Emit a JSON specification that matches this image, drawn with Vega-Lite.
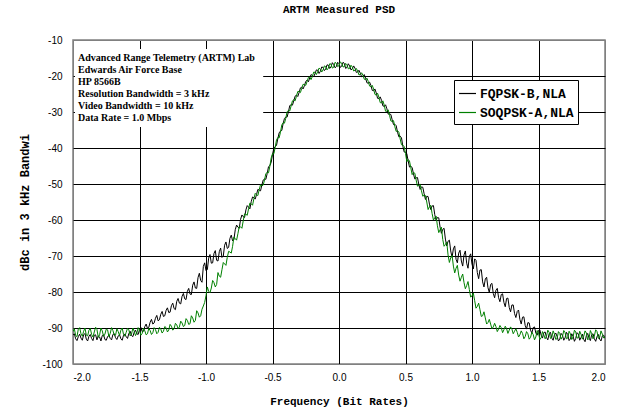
{
  "$schema": "https://vega.github.io/schema/vega-lite/v6.json",
  "width": 532,
  "height": 324,
  "autosize": {"type": "none"},
  "padding": {"left": 73, "top": 40, "right": 19, "bottom": 53},
  "background": "white",
  "title": {"text": "ARTM Measured PSD", "font": "Liberation Mono", "fontSize": 11, "fontWeight": "bold", "color": "black", "anchor": "middle", "offset": 20},
  "config": {
    "view": {"stroke": "#808080", "strokeWidth": 1.5},
    "axis": {"domain": false, "ticks": false, "grid": true, "gridWidth": 1, "labelColor": "black", "labelFont": "Liberation Sans", "labelFontSize": 10, "titleColor": "black", "titleFont": "Liberation Mono", "titleFontWeight": "bold", "titleFontSize": 11},
    "axisY": {"tickCount": 10, "tickMinStep": 10}
  },
  "datasets": {
    "psd": [
      {"f":-2.00,"FQPSK-B,NLA":-92.0,"SOQPSK-A,NLA":-91.0},
      {"f":-1.98,"FQPSK-B,NLA":-93.0,"SOQPSK-A,NLA":-92.1},
      {"f":-1.96,"FQPSK-B,NLA":-92.4,"SOQPSK-A,NLA":-90.3},
      {"f":-1.94,"FQPSK-B,NLA":-92.8,"SOQPSK-A,NLA":-91.6},
      {"f":-1.92,"FQPSK-B,NLA":-91.9,"SOQPSK-A,NLA":-90.9},
      {"f":-1.90,"FQPSK-B,NLA":-93.1,"SOQPSK-A,NLA":-92.0},
      {"f":-1.88,"FQPSK-B,NLA":-92.3,"SOQPSK-A,NLA":-90.6},
      {"f":-1.86,"FQPSK-B,NLA":-92.9,"SOQPSK-A,NLA":-91.8},
      {"f":-1.84,"FQPSK-B,NLA":-92.0,"SOQPSK-A,NLA":-91.1},
      {"f":-1.82,"FQPSK-B,NLA":-93.3,"SOQPSK-A,NLA":-90.4},
      {"f":-1.80,"FQPSK-B,NLA":-92.5,"SOQPSK-A,NLA":-91.9},
      {"f":-1.78,"FQPSK-B,NLA":-92.1,"SOQPSK-A,NLA":-90.8},
      {"f":-1.76,"FQPSK-B,NLA":-93.2,"SOQPSK-A,NLA":-91.7},
      {"f":-1.74,"FQPSK-B,NLA":-92.4,"SOQPSK-A,NLA":-90.5},
      {"f":-1.72,"FQPSK-B,NLA":-92.9,"SOQPSK-A,NLA":-91.5},
      {"f":-1.70,"FQPSK-B,NLA":-91.8,"SOQPSK-A,NLA":-90.7},
      {"f":-1.68,"FQPSK-B,NLA":-92.7,"SOQPSK-A,NLA":-92.0},
      {"f":-1.66,"FQPSK-B,NLA":-92.2,"SOQPSK-A,NLA":-91.0},
      {"f":-1.64,"FQPSK-B,NLA":-93.0,"SOQPSK-A,NLA":-90.6},
      {"f":-1.62,"FQPSK-B,NLA":-92.0,"SOQPSK-A,NLA":-91.8},
      {"f":-1.60,"FQPSK-B,NLA":-92.4,"SOQPSK-A,NLA":-91.2},
      {"f":-1.58,"FQPSK-B,NLA":-91.5,"SOQPSK-A,NLA":-90.5},
      {"f":-1.56,"FQPSK-B,NLA":-92.1,"SOQPSK-A,NLA":-91.7},
      {"f":-1.54,"FQPSK-B,NLA":-91.2,"SOQPSK-A,NLA":-90.9},
      {"f":-1.52,"FQPSK-B,NLA":-91.6,"SOQPSK-A,NLA":-91.4},
      {"f":-1.50,"FQPSK-B,NLA":-90.4,"SOQPSK-A,NLA":-90.6},
      {"f":-1.48,"FQPSK-B,NLA":-91.0,"SOQPSK-A,NLA":-91.5},
      {"f":-1.46,"FQPSK-B,NLA":-89.6,"SOQPSK-A,NLA":-90.8},
      {"f":-1.44,"FQPSK-B,NLA":-90.1,"SOQPSK-A,NLA":-91.6},
      {"f":-1.42,"FQPSK-B,NLA":-88.4,"SOQPSK-A,NLA":-90.7},
      {"f":-1.40,"FQPSK-B,NLA":-88.9,"SOQPSK-A,NLA":-91.3},
      {"f":-1.38,"FQPSK-B,NLA":-87.3,"SOQPSK-A,NLA":-90.4},
      {"f":-1.36,"FQPSK-B,NLA":-88.0,"SOQPSK-A,NLA":-91.2},
      {"f":-1.34,"FQPSK-B,NLA":-86.2,"SOQPSK-A,NLA":-90.3},
      {"f":-1.32,"FQPSK-B,NLA":-86.8,"SOQPSK-A,NLA":-90.9},
      {"f":-1.30,"FQPSK-B,NLA":-85.1,"SOQPSK-A,NLA":-89.9},
      {"f":-1.28,"FQPSK-B,NLA":-85.7,"SOQPSK-A,NLA":-90.6},
      {"f":-1.26,"FQPSK-B,NLA":-83.8,"SOQPSK-A,NLA":-89.5},
      {"f":-1.24,"FQPSK-B,NLA":-84.6,"SOQPSK-A,NLA":-90.2},
      {"f":-1.22,"FQPSK-B,NLA":-82.6,"SOQPSK-A,NLA":-89.1},
      {"f":-1.20,"FQPSK-B,NLA":-83.1,"SOQPSK-A,NLA":-89.7},
      {"f":-1.18,"FQPSK-B,NLA":-81.2,"SOQPSK-A,NLA":-88.6},
      {"f":-1.16,"FQPSK-B,NLA":-81.9,"SOQPSK-A,NLA":-89.3},
      {"f":-1.14,"FQPSK-B,NLA":-79.8,"SOQPSK-A,NLA":-87.9},
      {"f":-1.12,"FQPSK-B,NLA":-80.6,"SOQPSK-A,NLA":-88.8},
      {"f":-1.10,"FQPSK-B,NLA":-78.1,"SOQPSK-A,NLA":-87.2},
      {"f":-1.08,"FQPSK-B,NLA":-78.9,"SOQPSK-A,NLA":-87.9},
      {"f":-1.06,"FQPSK-B,NLA":-76.0,"SOQPSK-A,NLA":-85.8},
      {"f":-1.04,"FQPSK-B,NLA":-76.8,"SOQPSK-A,NLA":-86.6},
      {"f":-1.02,"FQPSK-B,NLA":-72.9,"SOQPSK-A,NLA":-83.9},
      {"f":-1.00,"FQPSK-B,NLA":-74.1,"SOQPSK-A,NLA":-81.0},
      {"f":-0.98,"FQPSK-B,NLA":-70.6,"SOQPSK-A,NLA":-79.8},
      {"f":-0.96,"FQPSK-B,NLA":-72.0,"SOQPSK-A,NLA":-78.9},
      {"f":-0.94,"FQPSK-B,NLA":-69.3,"SOQPSK-A,NLA":-77.4},
      {"f":-0.92,"FQPSK-B,NLA":-71.2,"SOQPSK-A,NLA":-77.9},
      {"f":-0.90,"FQPSK-B,NLA":-68.8,"SOQPSK-A,NLA":-75.6},
      {"f":-0.88,"FQPSK-B,NLA":-70.4,"SOQPSK-A,NLA":-73.8},
      {"f":-0.86,"FQPSK-B,NLA":-67.0,"SOQPSK-A,NLA":-72.2},
      {"f":-0.84,"FQPSK-B,NLA":-67.9,"SOQPSK-A,NLA":-70.4},
      {"f":-0.82,"FQPSK-B,NLA":-65.1,"SOQPSK-A,NLA":-68.9},
      {"f":-0.80,"FQPSK-B,NLA":-65.8,"SOQPSK-A,NLA":-67.3},
      {"f":-0.78,"FQPSK-B,NLA":-62.7,"SOQPSK-A,NLA":-65.2},
      {"f":-0.76,"FQPSK-B,NLA":-62.0,"SOQPSK-A,NLA":-63.8},
      {"f":-0.74,"FQPSK-B,NLA":-59.8,"SOQPSK-A,NLA":-61.9},
      {"f":-0.72,"FQPSK-B,NLA":-59.1,"SOQPSK-A,NLA":-60.2},
      {"f":-0.70,"FQPSK-B,NLA":-57.2,"SOQPSK-A,NLA":-58.4},
      {"f":-0.68,"FQPSK-B,NLA":-56.4,"SOQPSK-A,NLA":-56.9},
      {"f":-0.66,"FQPSK-B,NLA":-54.9,"SOQPSK-A,NLA":-55.5},
      {"f":-0.64,"FQPSK-B,NLA":-53.8,"SOQPSK-A,NLA":-54.1},
      {"f":-0.62,"FQPSK-B,NLA":-52.9,"SOQPSK-A,NLA":-53.0},
      {"f":-0.60,"FQPSK-B,NLA":-51.7,"SOQPSK-A,NLA":-51.6},
      {"f":-0.58,"FQPSK-B,NLA":-50.3,"SOQPSK-A,NLA":-50.5},
      {"f":-0.56,"FQPSK-B,NLA":-48.6,"SOQPSK-A,NLA":-48.9},
      {"f":-0.54,"FQPSK-B,NLA":-47.1,"SOQPSK-A,NLA":-46.8},
      {"f":-0.52,"FQPSK-B,NLA":-44.9,"SOQPSK-A,NLA":-45.1},
      {"f":-0.50,"FQPSK-B,NLA":-41.8,"SOQPSK-A,NLA":-41.6},
      {"f":-0.48,"FQPSK-B,NLA":-39.6,"SOQPSK-A,NLA":-39.9},
      {"f":-0.46,"FQPSK-B,NLA":-37.4,"SOQPSK-A,NLA":-37.1},
      {"f":-0.44,"FQPSK-B,NLA":-35.3,"SOQPSK-A,NLA":-35.6},
      {"f":-0.42,"FQPSK-B,NLA":-33.2,"SOQPSK-A,NLA":-33.0},
      {"f":-0.40,"FQPSK-B,NLA":-31.4,"SOQPSK-A,NLA":-31.7},
      {"f":-0.38,"FQPSK-B,NLA":-29.9,"SOQPSK-A,NLA":-29.6},
      {"f":-0.36,"FQPSK-B,NLA":-28.0,"SOQPSK-A,NLA":-28.3},
      {"f":-0.34,"FQPSK-B,NLA":-26.9,"SOQPSK-A,NLA":-26.6},
      {"f":-0.32,"FQPSK-B,NLA":-25.3,"SOQPSK-A,NLA":-25.6},
      {"f":-0.30,"FQPSK-B,NLA":-24.6,"SOQPSK-A,NLA":-24.3},
      {"f":-0.28,"FQPSK-B,NLA":-23.1,"SOQPSK-A,NLA":-23.4},
      {"f":-0.26,"FQPSK-B,NLA":-22.7,"SOQPSK-A,NLA":-22.4},
      {"f":-0.24,"FQPSK-B,NLA":-21.2,"SOQPSK-A,NLA":-21.5},
      {"f":-0.22,"FQPSK-B,NLA":-20.5,"SOQPSK-A,NLA":-20.3},
      {"f":-0.20,"FQPSK-B,NLA":-19.9,"SOQPSK-A,NLA":-20.1},
      {"f":-0.18,"FQPSK-B,NLA":-19.3,"SOQPSK-A,NLA":-19.0},
      {"f":-0.16,"FQPSK-B,NLA":-18.4,"SOQPSK-A,NLA":-18.8},
      {"f":-0.14,"FQPSK-B,NLA":-18.7,"SOQPSK-A,NLA":-18.1},
      {"f":-0.12,"FQPSK-B,NLA":-17.6,"SOQPSK-A,NLA":-18.3},
      {"f":-0.10,"FQPSK-B,NLA":-18.1,"SOQPSK-A,NLA":-17.4},
      {"f":-0.08,"FQPSK-B,NLA":-17.0,"SOQPSK-A,NLA":-17.8},
      {"f":-0.06,"FQPSK-B,NLA":-17.5,"SOQPSK-A,NLA":-16.7},
      {"f":-0.04,"FQPSK-B,NLA":-16.8,"SOQPSK-A,NLA":-17.6},
      {"f":-0.02,"FQPSK-B,NLA":-17.4,"SOQPSK-A,NLA":-16.5},
      {"f":0.00,"FQPSK-B,NLA":-16.6,"SOQPSK-A,NLA":-17.1},
      {"f":0.02,"FQPSK-B,NLA":-17.3,"SOQPSK-A,NLA":-16.4},
      {"f":0.04,"FQPSK-B,NLA":-16.5,"SOQPSK-A,NLA":-17.4},
      {"f":0.06,"FQPSK-B,NLA":-17.6,"SOQPSK-A,NLA":-16.9},
      {"f":0.08,"FQPSK-B,NLA":-17.2,"SOQPSK-A,NLA":-17.9},
      {"f":0.10,"FQPSK-B,NLA":-18.0,"SOQPSK-A,NLA":-17.5},
      {"f":0.12,"FQPSK-B,NLA":-17.8,"SOQPSK-A,NLA":-18.4},
      {"f":0.14,"FQPSK-B,NLA":-18.9,"SOQPSK-A,NLA":-18.6},
      {"f":0.16,"FQPSK-B,NLA":-19.2,"SOQPSK-A,NLA":-19.6},
      {"f":0.18,"FQPSK-B,NLA":-20.1,"SOQPSK-A,NLA":-19.8},
      {"f":0.20,"FQPSK-B,NLA":-20.6,"SOQPSK-A,NLA":-21.0},
      {"f":0.22,"FQPSK-B,NLA":-22.0,"SOQPSK-A,NLA":-21.5},
      {"f":0.24,"FQPSK-B,NLA":-22.6,"SOQPSK-A,NLA":-23.0},
      {"f":0.26,"FQPSK-B,NLA":-24.1,"SOQPSK-A,NLA":-23.6},
      {"f":0.28,"FQPSK-B,NLA":-24.7,"SOQPSK-A,NLA":-25.3},
      {"f":0.30,"FQPSK-B,NLA":-26.3,"SOQPSK-A,NLA":-25.9},
      {"f":0.32,"FQPSK-B,NLA":-26.8,"SOQPSK-A,NLA":-27.5},
      {"f":0.34,"FQPSK-B,NLA":-28.4,"SOQPSK-A,NLA":-28.1},
      {"f":0.36,"FQPSK-B,NLA":-29.1,"SOQPSK-A,NLA":-29.8},
      {"f":0.38,"FQPSK-B,NLA":-30.5,"SOQPSK-A,NLA":-30.9},
      {"f":0.40,"FQPSK-B,NLA":-32.2,"SOQPSK-A,NLA":-32.6},
      {"f":0.42,"FQPSK-B,NLA":-33.4,"SOQPSK-A,NLA":-34.1},
      {"f":0.44,"FQPSK-B,NLA":-35.6,"SOQPSK-A,NLA":-35.2},
      {"f":0.46,"FQPSK-B,NLA":-36.7,"SOQPSK-A,NLA":-37.5},
      {"f":0.48,"FQPSK-B,NLA":-39.5,"SOQPSK-A,NLA":-39.2},
      {"f":0.50,"FQPSK-B,NLA":-41.2,"SOQPSK-A,NLA":-41.5},
      {"f":0.52,"FQPSK-B,NLA":-43.6,"SOQPSK-A,NLA":-43.2},
      {"f":0.54,"FQPSK-B,NLA":-45.1,"SOQPSK-A,NLA":-45.5},
      {"f":0.56,"FQPSK-B,NLA":-47.2,"SOQPSK-A,NLA":-46.8},
      {"f":0.58,"FQPSK-B,NLA":-48.3,"SOQPSK-A,NLA":-48.9},
      {"f":0.60,"FQPSK-B,NLA":-50.1,"SOQPSK-A,NLA":-50.4},
      {"f":0.62,"FQPSK-B,NLA":-50.8,"SOQPSK-A,NLA":-51.9},
      {"f":0.64,"FQPSK-B,NLA":-52.7,"SOQPSK-A,NLA":-53.1},
      {"f":0.66,"FQPSK-B,NLA":-53.4,"SOQPSK-A,NLA":-55.0},
      {"f":0.68,"FQPSK-B,NLA":-55.6,"SOQPSK-A,NLA":-56.3},
      {"f":0.70,"FQPSK-B,NLA":-56.1,"SOQPSK-A,NLA":-58.2},
      {"f":0.72,"FQPSK-B,NLA":-58.5,"SOQPSK-A,NLA":-59.4},
      {"f":0.74,"FQPSK-B,NLA":-59.3,"SOQPSK-A,NLA":-61.6},
      {"f":0.76,"FQPSK-B,NLA":-62.0,"SOQPSK-A,NLA":-62.7},
      {"f":0.78,"FQPSK-B,NLA":-62.6,"SOQPSK-A,NLA":-65.4},
      {"f":0.80,"FQPSK-B,NLA":-65.3,"SOQPSK-A,NLA":-66.8},
      {"f":0.82,"FQPSK-B,NLA":-65.9,"SOQPSK-A,NLA":-69.7},
      {"f":0.84,"FQPSK-B,NLA":-68.6,"SOQPSK-A,NLA":-70.5},
      {"f":0.86,"FQPSK-B,NLA":-68.0,"SOQPSK-A,NLA":-72.8},
      {"f":0.88,"FQPSK-B,NLA":-70.9,"SOQPSK-A,NLA":-73.4},
      {"f":0.90,"FQPSK-B,NLA":-69.2,"SOQPSK-A,NLA":-75.3},
      {"f":0.92,"FQPSK-B,NLA":-71.4,"SOQPSK-A,NLA":-75.9},
      {"f":0.94,"FQPSK-B,NLA":-69.7,"SOQPSK-A,NLA":-77.4},
      {"f":0.96,"FQPSK-B,NLA":-72.0,"SOQPSK-A,NLA":-78.2},
      {"f":0.98,"FQPSK-B,NLA":-70.1,"SOQPSK-A,NLA":-79.3},
      {"f":1.00,"FQPSK-B,NLA":-72.3,"SOQPSK-A,NLA":-81.1},
      {"f":1.02,"FQPSK-B,NLA":-70.8,"SOQPSK-A,NLA":-82.4},
      {"f":1.04,"FQPSK-B,NLA":-74.6,"SOQPSK-A,NLA":-84.0},
      {"f":1.06,"FQPSK-B,NLA":-73.9,"SOQPSK-A,NLA":-84.9},
      {"f":1.08,"FQPSK-B,NLA":-77.2,"SOQPSK-A,NLA":-86.6},
      {"f":1.10,"FQPSK-B,NLA":-76.4,"SOQPSK-A,NLA":-87.2},
      {"f":1.12,"FQPSK-B,NLA":-78.8,"SOQPSK-A,NLA":-88.5},
      {"f":1.14,"FQPSK-B,NLA":-77.9,"SOQPSK-A,NLA":-88.9},
      {"f":1.16,"FQPSK-B,NLA":-80.4,"SOQPSK-A,NLA":-89.7},
      {"f":1.18,"FQPSK-B,NLA":-79.5,"SOQPSK-A,NLA":-89.6},
      {"f":1.20,"FQPSK-B,NLA":-81.6,"SOQPSK-A,NLA":-90.3},
      {"f":1.22,"FQPSK-B,NLA":-80.7,"SOQPSK-A,NLA":-89.9},
      {"f":1.24,"FQPSK-B,NLA":-82.9,"SOQPSK-A,NLA":-90.5},
      {"f":1.26,"FQPSK-B,NLA":-81.8,"SOQPSK-A,NLA":-90.2},
      {"f":1.28,"FQPSK-B,NLA":-84.3,"SOQPSK-A,NLA":-90.6},
      {"f":1.30,"FQPSK-B,NLA":-83.6,"SOQPSK-A,NLA":-90.3},
      {"f":1.32,"FQPSK-B,NLA":-86.0,"SOQPSK-A,NLA":-90.9},
      {"f":1.34,"FQPSK-B,NLA":-85.4,"SOQPSK-A,NLA":-91.2},
      {"f":1.36,"FQPSK-B,NLA":-87.6,"SOQPSK-A,NLA":-91.9},
      {"f":1.38,"FQPSK-B,NLA":-87.0,"SOQPSK-A,NLA":-91.5},
      {"f":1.40,"FQPSK-B,NLA":-89.3,"SOQPSK-A,NLA":-92.4},
      {"f":1.42,"FQPSK-B,NLA":-88.5,"SOQPSK-A,NLA":-91.6},
      {"f":1.44,"FQPSK-B,NLA":-90.6,"SOQPSK-A,NLA":-92.6},
      {"f":1.46,"FQPSK-B,NLA":-89.9,"SOQPSK-A,NLA":-91.8},
      {"f":1.48,"FQPSK-B,NLA":-91.4,"SOQPSK-A,NLA":-92.5},
      {"f":1.50,"FQPSK-B,NLA":-90.7,"SOQPSK-A,NLA":-91.4},
      {"f":1.52,"FQPSK-B,NLA":-92.0,"SOQPSK-A,NLA":-92.7},
      {"f":1.54,"FQPSK-B,NLA":-91.3,"SOQPSK-A,NLA":-91.9},
      {"f":1.56,"FQPSK-B,NLA":-92.6,"SOQPSK-A,NLA":-92.3},
      {"f":1.58,"FQPSK-B,NLA":-91.6,"SOQPSK-A,NLA":-91.2},
      {"f":1.60,"FQPSK-B,NLA":-92.8,"SOQPSK-A,NLA":-92.6},
      {"f":1.62,"FQPSK-B,NLA":-91.9,"SOQPSK-A,NLA":-91.7},
      {"f":1.64,"FQPSK-B,NLA":-92.4,"SOQPSK-A,NLA":-92.9},
      {"f":1.66,"FQPSK-B,NLA":-93.1,"SOQPSK-A,NLA":-91.5},
      {"f":1.68,"FQPSK-B,NLA":-92.0,"SOQPSK-A,NLA":-92.4},
      {"f":1.70,"FQPSK-B,NLA":-92.7,"SOQPSK-A,NLA":-91.3},
      {"f":1.72,"FQPSK-B,NLA":-91.8,"SOQPSK-A,NLA":-92.8},
      {"f":1.74,"FQPSK-B,NLA":-93.0,"SOQPSK-A,NLA":-91.6},
      {"f":1.76,"FQPSK-B,NLA":-92.3,"SOQPSK-A,NLA":-92.5},
      {"f":1.78,"FQPSK-B,NLA":-92.9,"SOQPSK-A,NLA":-91.1},
      {"f":1.80,"FQPSK-B,NLA":-91.7,"SOQPSK-A,NLA":-92.7},
      {"f":1.82,"FQPSK-B,NLA":-92.6,"SOQPSK-A,NLA":-91.8},
      {"f":1.84,"FQPSK-B,NLA":-93.2,"SOQPSK-A,NLA":-92.3},
      {"f":1.86,"FQPSK-B,NLA":-92.1,"SOQPSK-A,NLA":-91.4},
      {"f":1.88,"FQPSK-B,NLA":-92.8,"SOQPSK-A,NLA":-92.9},
      {"f":1.90,"FQPSK-B,NLA":-91.9,"SOQPSK-A,NLA":-91.6},
      {"f":1.92,"FQPSK-B,NLA":-93.0,"SOQPSK-A,NLA":-92.2},
      {"f":1.94,"FQPSK-B,NLA":-92.4,"SOQPSK-A,NLA":-91.0},
      {"f":1.96,"FQPSK-B,NLA":-93.1,"SOQPSK-A,NLA":-92.6},
      {"f":1.98,"FQPSK-B,NLA":-92.2,"SOQPSK-A,NLA":-91.7},
      {"f":2.00,"FQPSK-B,NLA":-92.9,"SOQPSK-A,NLA":-92.4},
      {"f":-1.99,"FQPSK-B,NLA":-91.6,"SOQPSK-A,NLA":-90.2},
      {"f":-1.97,"FQPSK-B,NLA":-93.5,"SOQPSK-A,NLA":-92.4},
      {"f":-1.95,"FQPSK-B,NLA":-91.7,"SOQPSK-A,NLA":-89.9},
      {"f":-1.93,"FQPSK-B,NLA":-93.4,"SOQPSK-A,NLA":-92.3},
      {"f":-1.91,"FQPSK-B,NLA":-91.5,"SOQPSK-A,NLA":-90.0},
      {"f":-1.89,"FQPSK-B,NLA":-93.6,"SOQPSK-A,NLA":-92.2},
      {"f":-1.87,"FQPSK-B,NLA":-91.8,"SOQPSK-A,NLA":-90.1},
      {"f":-1.85,"FQPSK-B,NLA":-93.5,"SOQPSK-A,NLA":-92.5},
      {"f":-1.83,"FQPSK-B,NLA":-91.9,"SOQPSK-A,NLA":-89.8},
      {"f":-1.81,"FQPSK-B,NLA":-92.2,"SOQPSK-A,NLA":-92.6},
      {"f":-1.79,"FQPSK-B,NLA":-93.6,"SOQPSK-A,NLA":-90.0},
      {"f":-1.77,"FQPSK-B,NLA":-91.9,"SOQPSK-A,NLA":-92.3},
      {"f":-1.75,"FQPSK-B,NLA":-93.4,"SOQPSK-A,NLA":-90.3},
      {"f":-1.73,"FQPSK-B,NLA":-92.0,"SOQPSK-A,NLA":-92.4},
      {"f":-1.71,"FQPSK-B,NLA":-93.3,"SOQPSK-A,NLA":-89.9},
      {"f":-1.69,"FQPSK-B,NLA":-91.6,"SOQPSK-A,NLA":-91.9},
      {"f":-1.67,"FQPSK-B,NLA":-93.2,"SOQPSK-A,NLA":-90.2},
      {"f":-1.65,"FQPSK-B,NLA":-91.9,"SOQPSK-A,NLA":-92.1},
      {"f":-1.63,"FQPSK-B,NLA":-93.4,"SOQPSK-A,NLA":-90.0},
      {"f":-1.61,"FQPSK-B,NLA":-91.7,"SOQPSK-A,NLA":-92.3},
      {"f":-1.59,"FQPSK-B,NLA":-92.9,"SOQPSK-A,NLA":-90.1},
      {"f":-1.57,"FQPSK-B,NLA":-90.9,"SOQPSK-A,NLA":-92.2},
      {"f":-1.55,"FQPSK-B,NLA":-92.4,"SOQPSK-A,NLA":-90.0},
      {"f":-1.53,"FQPSK-B,NLA":-90.6,"SOQPSK-A,NLA":-92.1},
      {"f":-1.51,"FQPSK-B,NLA":-91.8,"SOQPSK-A,NLA":-89.9},
      {"f":-1.49,"FQPSK-B,NLA":-89.8,"SOQPSK-A,NLA":-92.0},
      {"f":-1.47,"FQPSK-B,NLA":-90.9,"SOQPSK-A,NLA":-90.0},
      {"f":-1.45,"FQPSK-B,NLA":-88.9,"SOQPSK-A,NLA":-91.9},
      {"f":-1.43,"FQPSK-B,NLA":-89.8,"SOQPSK-A,NLA":-90.1},
      {"f":-1.41,"FQPSK-B,NLA":-87.6,"SOQPSK-A,NLA":-91.8},
      {"f":-1.39,"FQPSK-B,NLA":-88.6,"SOQPSK-A,NLA":-89.9},
      {"f":-1.37,"FQPSK-B,NLA":-86.5,"SOQPSK-A,NLA":-91.6},
      {"f":-1.35,"FQPSK-B,NLA":-87.7,"SOQPSK-A,NLA":-89.8},
      {"f":-1.33,"FQPSK-B,NLA":-85.4,"SOQPSK-A,NLA":-91.4},
      {"f":-1.31,"FQPSK-B,NLA":-86.6,"SOQPSK-A,NLA":-89.6},
      {"f":-1.29,"FQPSK-B,NLA":-84.4,"SOQPSK-A,NLA":-91.1},
      {"f":-1.27,"FQPSK-B,NLA":-85.6,"SOQPSK-A,NLA":-89.0},
      {"f":-1.25,"FQPSK-B,NLA":-83.1,"SOQPSK-A,NLA":-90.6},
      {"f":-1.23,"FQPSK-B,NLA":-84.9,"SOQPSK-A,NLA":-88.7},
      {"f":-1.21,"FQPSK-B,NLA":-81.8,"SOQPSK-A,NLA":-90.2},
      {"f":-1.19,"FQPSK-B,NLA":-83.3,"SOQPSK-A,NLA":-88.1},
      {"f":-1.17,"FQPSK-B,NLA":-80.4,"SOQPSK-A,NLA":-89.6},
      {"f":-1.15,"FQPSK-B,NLA":-82.1,"SOQPSK-A,NLA":-87.4},
      {"f":-1.13,"FQPSK-B,NLA":-79.0,"SOQPSK-A,NLA":-89.0},
      {"f":-1.11,"FQPSK-B,NLA":-80.7,"SOQPSK-A,NLA":-86.6},
      {"f":-1.09,"FQPSK-B,NLA":-77.2,"SOQPSK-A,NLA":-88.4},
      {"f":-1.07,"FQPSK-B,NLA":-79.0,"SOQPSK-A,NLA":-85.2},
      {"f":-1.05,"FQPSK-B,NLA":-74.8,"SOQPSK-A,NLA":-87.0},
      {"f":-1.03,"FQPSK-B,NLA":-77.3,"SOQPSK-A,NLA":-84.8},
      {"f":-1.01,"FQPSK-B,NLA":-71.9,"SOQPSK-A,NLA":-82.9},
      {"f":-0.99,"FQPSK-B,NLA":-73.8,"SOQPSK-A,NLA":-78.6},
      {"f":-0.97,"FQPSK-B,NLA":-69.6,"SOQPSK-A,NLA":-80.2},
      {"f":-0.95,"FQPSK-B,NLA":-71.9,"SOQPSK-A,NLA":-76.8},
      {"f":-0.93,"FQPSK-B,NLA":-68.5,"SOQPSK-A,NLA":-78.6},
      {"f":-0.91,"FQPSK-B,NLA":-71.4,"SOQPSK-A,NLA":-74.6},
      {"f":-0.89,"FQPSK-B,NLA":-67.8,"SOQPSK-A,NLA":-75.9},
      {"f":-0.87,"FQPSK-B,NLA":-70.0,"SOQPSK-A,NLA":-71.8},
      {"f":-0.85,"FQPSK-B,NLA":-66.1,"SOQPSK-A,NLA":-72.6},
      {"f":-0.83,"FQPSK-B,NLA":-67.6,"SOQPSK-A,NLA":-68.7},
      {"f":-0.81,"FQPSK-B,NLA":-64.2,"SOQPSK-A,NLA":-69.2},
      {"f":-0.79,"FQPSK-B,NLA":-65.4,"SOQPSK-A,NLA":-64.7},
      {"f":-0.77,"FQPSK-B,NLA":-61.4,"SOQPSK-A,NLA":-65.6},
      {"f":-0.75,"FQPSK-B,NLA":-62.3,"SOQPSK-A,NLA":-61.8},
      {"f":-0.73,"FQPSK-B,NLA":-58.6,"SOQPSK-A,NLA":-62.3},
      {"f":-0.71,"FQPSK-B,NLA":-59.3,"SOQPSK-A,NLA":-58.3},
      {"f":-0.69,"FQPSK-B,NLA":-56.0,"SOQPSK-A,NLA":-58.7},
      {"f":-0.67,"FQPSK-B,NLA":-56.9,"SOQPSK-A,NLA":-55.3},
      {"f":-0.65,"FQPSK-B,NLA":-53.6,"SOQPSK-A,NLA":-55.9},
      {"f":-0.63,"FQPSK-B,NLA":-54.2,"SOQPSK-A,NLA":-52.6},
      {"f":-0.61,"FQPSK-B,NLA":-51.5,"SOQPSK-A,NLA":-53.2},
      {"f":-0.59,"FQPSK-B,NLA":-51.9,"SOQPSK-A,NLA":-50.2},
      {"f":-0.57,"FQPSK-B,NLA":-48.9,"SOQPSK-A,NLA":-50.3},
      {"f":-0.55,"FQPSK-B,NLA":-48.7,"SOQPSK-A,NLA":-47.1},
      {"f":-0.53,"FQPSK-B,NLA":-45.2,"SOQPSK-A,NLA":-46.9},
      {"f":-0.51,"FQPSK-B,NLA":-44.0,"SOQPSK-A,NLA":-42.8},
      {"f":-0.49,"FQPSK-B,NLA":-40.1,"SOQPSK-A,NLA":-41.6},
      {"f":-0.47,"FQPSK-B,NLA":-39.3,"SOQPSK-A,NLA":-37.8},
      {"f":-0.45,"FQPSK-B,NLA":-35.8,"SOQPSK-A,NLA":-37.2},
      {"f":-0.43,"FQPSK-B,NLA":-35.1,"SOQPSK-A,NLA":-33.6},
      {"f":-0.41,"FQPSK-B,NLA":-31.8,"SOQPSK-A,NLA":-33.1},
      {"f":-0.39,"FQPSK-B,NLA":-31.4,"SOQPSK-A,NLA":-29.9},
      {"f":-0.37,"FQPSK-B,NLA":-28.2,"SOQPSK-A,NLA":-29.7},
      {"f":-0.35,"FQPSK-B,NLA":-28.1,"SOQPSK-A,NLA":-26.9},
      {"f":-0.33,"FQPSK-B,NLA":-25.6,"SOQPSK-A,NLA":-26.9},
      {"f":-0.31,"FQPSK-B,NLA":-25.7,"SOQPSK-A,NLA":-24.3},
      {"f":-0.29,"FQPSK-B,NLA":-23.3,"SOQPSK-A,NLA":-24.6},
      {"f":-0.27,"FQPSK-B,NLA":-23.6,"SOQPSK-A,NLA":-22.3},
      {"f":-0.25,"FQPSK-B,NLA":-21.5,"SOQPSK-A,NLA":-22.6},
      {"f":-0.23,"FQPSK-B,NLA":-21.6,"SOQPSK-A,NLA":-20.4},
      {"f":-0.21,"FQPSK-B,NLA":-19.6,"SOQPSK-A,NLA":-21.0},
      {"f":-0.19,"FQPSK-B,NLA":-20.2,"SOQPSK-A,NLA":-18.9},
      {"f":-0.17,"FQPSK-B,NLA":-18.3,"SOQPSK-A,NLA":-19.6},
      {"f":-0.15,"FQPSK-B,NLA":-19.3,"SOQPSK-A,NLA":-17.8},
      {"f":-0.13,"FQPSK-B,NLA":-17.5,"SOQPSK-A,NLA":-18.9},
      {"f":-0.11,"FQPSK-B,NLA":-18.5,"SOQPSK-A,NLA":-17.2},
      {"f":-0.09,"FQPSK-B,NLA":-16.9,"SOQPSK-A,NLA":-18.3},
      {"f":-0.07,"FQPSK-B,NLA":-17.9,"SOQPSK-A,NLA":-16.6},
      {"f":-0.05,"FQPSK-B,NLA":-16.3,"SOQPSK-A,NLA":-17.8},
      {"f":-0.03,"FQPSK-B,NLA":-17.7,"SOQPSK-A,NLA":-16.2},
      {"f":-0.01,"FQPSK-B,NLA":-16.2,"SOQPSK-A,NLA":-17.4},
      {"f":0.01,"FQPSK-B,NLA":-17.6,"SOQPSK-A,NLA":-16.1},
      {"f":0.03,"FQPSK-B,NLA":-16.2,"SOQPSK-A,NLA":-17.5},
      {"f":0.05,"FQPSK-B,NLA":-17.9,"SOQPSK-A,NLA":-16.5},
      {"f":0.07,"FQPSK-B,NLA":-16.6,"SOQPSK-A,NLA":-18.0},
      {"f":0.09,"FQPSK-B,NLA":-18.3,"SOQPSK-A,NLA":-17.0},
      {"f":0.11,"FQPSK-B,NLA":-17.2,"SOQPSK-A,NLA":-18.6},
      {"f":0.13,"FQPSK-B,NLA":-19.0,"SOQPSK-A,NLA":-17.9},
      {"f":0.15,"FQPSK-B,NLA":-18.4,"SOQPSK-A,NLA":-19.7},
      {"f":0.17,"FQPSK-B,NLA":-20.2,"SOQPSK-A,NLA":-19.1},
      {"f":0.19,"FQPSK-B,NLA":-19.6,"SOQPSK-A,NLA":-20.9},
      {"f":0.21,"FQPSK-B,NLA":-21.9,"SOQPSK-A,NLA":-20.6},
      {"f":0.23,"FQPSK-B,NLA":-21.7,"SOQPSK-A,NLA":-22.8},
      {"f":0.25,"FQPSK-B,NLA":-24.0,"SOQPSK-A,NLA":-22.6},
      {"f":0.27,"FQPSK-B,NLA":-23.6,"SOQPSK-A,NLA":-25.1},
      {"f":0.29,"FQPSK-B,NLA":-26.2,"SOQPSK-A,NLA":-24.8},
      {"f":0.31,"FQPSK-B,NLA":-25.8,"SOQPSK-A,NLA":-27.4},
      {"f":0.33,"FQPSK-B,NLA":-28.3,"SOQPSK-A,NLA":-26.9},
      {"f":0.35,"FQPSK-B,NLA":-28.0,"SOQPSK-A,NLA":-29.8},
      {"f":0.37,"FQPSK-B,NLA":-30.6,"SOQPSK-A,NLA":-29.4},
      {"f":0.39,"FQPSK-B,NLA":-30.7,"SOQPSK-A,NLA":-32.5},
      {"f":0.41,"FQPSK-B,NLA":-33.5,"SOQPSK-A,NLA":-32.4},
      {"f":0.43,"FQPSK-B,NLA":-33.8,"SOQPSK-A,NLA":-35.4},
      {"f":0.45,"FQPSK-B,NLA":-36.9,"SOQPSK-A,NLA":-35.6},
      {"f":0.47,"FQPSK-B,NLA":-37.2,"SOQPSK-A,NLA":-39.1},
      {"f":0.49,"FQPSK-B,NLA":-41.1,"SOQPSK-A,NLA":-39.6},
      {"f":0.51,"FQPSK-B,NLA":-41.6,"SOQPSK-A,NLA":-43.8},
      {"f":0.53,"FQPSK-B,NLA":-45.3,"SOQPSK-A,NLA":-43.6},
      {"f":0.55,"FQPSK-B,NLA":-45.4,"SOQPSK-A,NLA":-47.4},
      {"f":0.57,"FQPSK-B,NLA":-48.6,"SOQPSK-A,NLA":-47.0},
      {"f":0.59,"FQPSK-B,NLA":-48.2,"SOQPSK-A,NLA":-50.6},
      {"f":0.61,"FQPSK-B,NLA":-51.5,"SOQPSK-A,NLA":-50.1},
      {"f":0.63,"FQPSK-B,NLA":-50.9,"SOQPSK-A,NLA":-53.4},
      {"f":0.65,"FQPSK-B,NLA":-54.3,"SOQPSK-A,NLA":-53.2},
      {"f":0.67,"FQPSK-B,NLA":-53.5,"SOQPSK-A,NLA":-57.1},
      {"f":0.69,"FQPSK-B,NLA":-57.1,"SOQPSK-A,NLA":-55.9},
      {"f":0.71,"FQPSK-B,NLA":-56.0,"SOQPSK-A,NLA":-60.0},
      {"f":0.73,"FQPSK-B,NLA":-60.1,"SOQPSK-A,NLA":-58.9},
      {"f":0.75,"FQPSK-B,NLA":-59.4,"SOQPSK-A,NLA":-63.5},
      {"f":0.77,"FQPSK-B,NLA":-63.7,"SOQPSK-A,NLA":-62.0},
      {"f":0.79,"FQPSK-B,NLA":-62.3,"SOQPSK-A,NLA":-67.3},
      {"f":0.81,"FQPSK-B,NLA":-67.2,"SOQPSK-A,NLA":-66.1},
      {"f":0.83,"FQPSK-B,NLA":-65.6,"SOQPSK-A,NLA":-71.8},
      {"f":0.85,"FQPSK-B,NLA":-70.4,"SOQPSK-A,NLA":-69.8},
      {"f":0.87,"FQPSK-B,NLA":-67.2,"SOQPSK-A,NLA":-74.7},
      {"f":0.89,"FQPSK-B,NLA":-71.9,"SOQPSK-A,NLA":-72.6},
      {"f":0.91,"FQPSK-B,NLA":-68.4,"SOQPSK-A,NLA":-77.0},
      {"f":0.93,"FQPSK-B,NLA":-72.8,"SOQPSK-A,NLA":-75.0},
      {"f":0.95,"FQPSK-B,NLA":-68.6,"SOQPSK-A,NLA":-79.1},
      {"f":0.97,"FQPSK-B,NLA":-73.4,"SOQPSK-A,NLA":-77.1},
      {"f":0.99,"FQPSK-B,NLA":-69.4,"SOQPSK-A,NLA":-81.4},
      {"f":1.01,"FQPSK-B,NLA":-73.6,"SOQPSK-A,NLA":-80.3},
      {"f":1.03,"FQPSK-B,NLA":-71.2,"SOQPSK-A,NLA":-84.5},
      {"f":1.05,"FQPSK-B,NLA":-76.3,"SOQPSK-A,NLA":-83.1},
      {"f":1.07,"FQPSK-B,NLA":-73.8,"SOQPSK-A,NLA":-86.8},
      {"f":1.09,"FQPSK-B,NLA":-78.6,"SOQPSK-A,NLA":-85.5},
      {"f":1.11,"FQPSK-B,NLA":-75.9,"SOQPSK-A,NLA":-88.9},
      {"f":1.13,"FQPSK-B,NLA":-80.1,"SOQPSK-A,NLA":-87.6},
      {"f":1.15,"FQPSK-B,NLA":-77.6,"SOQPSK-A,NLA":-90.2},
      {"f":1.17,"FQPSK-B,NLA":-81.6,"SOQPSK-A,NLA":-88.7},
      {"f":1.19,"FQPSK-B,NLA":-79.0,"SOQPSK-A,NLA":-91.0},
      {"f":1.21,"FQPSK-B,NLA":-82.7,"SOQPSK-A,NLA":-89.3},
      {"f":1.23,"FQPSK-B,NLA":-80.5,"SOQPSK-A,NLA":-91.3},
      {"f":1.25,"FQPSK-B,NLA":-84.1,"SOQPSK-A,NLA":-89.5},
      {"f":1.27,"FQPSK-B,NLA":-81.7,"SOQPSK-A,NLA":-91.5},
      {"f":1.29,"FQPSK-B,NLA":-85.5,"SOQPSK-A,NLA":-89.7},
      {"f":1.31,"FQPSK-B,NLA":-83.6,"SOQPSK-A,NLA":-91.6},
      {"f":1.33,"FQPSK-B,NLA":-87.1,"SOQPSK-A,NLA":-90.2},
      {"f":1.35,"FQPSK-B,NLA":-85.0,"SOQPSK-A,NLA":-92.5},
      {"f":1.37,"FQPSK-B,NLA":-88.9,"SOQPSK-A,NLA":-90.8},
      {"f":1.39,"FQPSK-B,NLA":-86.9,"SOQPSK-A,NLA":-93.0},
      {"f":1.41,"FQPSK-B,NLA":-90.3,"SOQPSK-A,NLA":-91.0},
      {"f":1.43,"FQPSK-B,NLA":-88.6,"SOQPSK-A,NLA":-93.1},
      {"f":1.45,"FQPSK-B,NLA":-91.4,"SOQPSK-A,NLA":-91.2},
      {"f":1.47,"FQPSK-B,NLA":-89.7,"SOQPSK-A,NLA":-93.3},
      {"f":1.49,"FQPSK-B,NLA":-92.0,"SOQPSK-A,NLA":-90.7},
      {"f":1.51,"FQPSK-B,NLA":-90.5,"SOQPSK-A,NLA":-93.2},
      {"f":1.53,"FQPSK-B,NLA":-92.8,"SOQPSK-A,NLA":-91.0},
      {"f":1.55,"FQPSK-B,NLA":-91.1,"SOQPSK-A,NLA":-93.0},
      {"f":1.57,"FQPSK-B,NLA":-93.3,"SOQPSK-A,NLA":-90.6},
      {"f":1.59,"FQPSK-B,NLA":-91.2,"SOQPSK-A,NLA":-92.9},
      {"f":1.61,"FQPSK-B,NLA":-93.4,"SOQPSK-A,NLA":-90.8},
      {"f":1.63,"FQPSK-B,NLA":-91.4,"SOQPSK-A,NLA":-93.2},
      {"f":1.65,"FQPSK-B,NLA":-93.6,"SOQPSK-A,NLA":-91.0},
      {"f":1.67,"FQPSK-B,NLA":-91.5,"SOQPSK-A,NLA":-93.1},
      {"f":1.69,"FQPSK-B,NLA":-93.4,"SOQPSK-A,NLA":-90.7},
      {"f":1.71,"FQPSK-B,NLA":-91.2,"SOQPSK-A,NLA":-93.0},
      {"f":1.73,"FQPSK-B,NLA":-93.5,"SOQPSK-A,NLA":-90.9},
      {"f":1.75,"FQPSK-B,NLA":-91.6,"SOQPSK-A,NLA":-93.2},
      {"f":1.77,"FQPSK-B,NLA":-93.7,"SOQPSK-A,NLA":-90.6},
      {"f":1.79,"FQPSK-B,NLA":-91.3,"SOQPSK-A,NLA":-92.8},
      {"f":1.81,"FQPSK-B,NLA":-93.4,"SOQPSK-A,NLA":-90.9},
      {"f":1.83,"FQPSK-B,NLA":-91.7,"SOQPSK-A,NLA":-93.1},
      {"f":1.85,"FQPSK-B,NLA":-93.8,"SOQPSK-A,NLA":-90.8},
      {"f":1.87,"FQPSK-B,NLA":-91.5,"SOQPSK-A,NLA":-93.3},
      {"f":1.89,"FQPSK-B,NLA":-93.5,"SOQPSK-A,NLA":-90.7},
      {"f":1.91,"FQPSK-B,NLA":-91.6,"SOQPSK-A,NLA":-93.0},
      {"f":1.93,"FQPSK-B,NLA":-93.7,"SOQPSK-A,NLA":-90.5},
      {"f":1.95,"FQPSK-B,NLA":-91.8,"SOQPSK-A,NLA":-92.9},
      {"f":1.97,"FQPSK-B,NLA":-93.6,"SOQPSK-A,NLA":-90.8},
      {"f":1.99,"FQPSK-B,NLA":-92.0,"SOQPSK-A,NLA":-92.8}
    ]
  },
  "layer": [
    {
      "data": {"name": "psd"},
      "transform": [{"fold": ["FQPSK-B,NLA", "SOQPSK-A,NLA"], "as": ["series", "dB"]}],
      "mark": {"type": "line", "strokeWidth": 1, "clip": true},
      "encoding": {
        "x": {
          "field": "f", "type": "quantitative",
          "scale": {"domain": [-2, 2]},
          "axis": {
            "values": [-2, -1.5, -1, -0.5, 0, 0.5, 1, 1.5, 2],
            "labelExpr": "replace(format(datum.value, '.1f'), '\u2212', '-')",
            "labelPadding": 8,
            "gridColor": {"condition": {"test": "datum.value == -2 || datum.value == 2", "value": "#808080"}, "value": "black"},
            "title": "Frequency (Bit Rates)",
            "titlePadding": 13
          }
        },
        "y": {
          "field": "dB", "type": "quantitative",
          "scale": {"domain": [-100, -10]},
          "axis": {
            "values": [-100, -90, -80, -70, -60, -50, -40, -30, -20, -10],
            "tickCount": 10,
            "labelExpr": "replace(format(datum.value, 'd'), '\u2212', '-')",
            "labelPadding": 11,
            "labelOverlap": false,
            "gridColor": {"condition": {"test": "datum.value == -10 || datum.value == -100", "value": "#808080"}, "value": "black"},
            "title": "dBc in 3 kHz Bandwi",
            "titleFontSize": 12,
            "titlePadding": 10
          }
        },
        "color": {
          "field": "series", "type": "nominal",
          "scale": {"domain": ["FQPSK-B,NLA", "SOQPSK-A,NLA"], "range": ["#000000", "#008000"]},
          "legend": {
            "orient": "none", "legendX": 381, "legendY": 40,
            "title": null, "direction": "vertical",
            "fillColor": "white", "strokeColor": "black", "padding": 4,
            "symbolType": "stroke", "symbolSize": 289, "symbolStrokeWidth": 1.2,
            "labelFont": "Liberation Mono", "labelFontSize": 13, "labelFontWeight": "bold", "labelColor": "black",
            "rowPadding": 2, "labelOffset": 3,
            "labelExpr": "datum.label + '  '"
          }
        }
      }
    },
    {
      "data": {"values": [{}]},
      "mark": {"type": "rect", "fill": "white"},
      "encoding": {
        "x": {"datum": -1.985, "type": "quantitative"},
        "x2": {"datum": -0.57},
        "y": {"datum": -12.5, "type": "quantitative"},
        "y2": {"datum": -34.2}
      }
    },
    {
      "data": {"values": [{}]},
      "mark": {"type": "text", "align": "left", "baseline": "top", "font": "Liberation Serif", "fontWeight": "bold", "fontSize": 10, "lineHeight": 12, "color": "black"},
      "encoding": {
        "x": {"datum": -1.962, "type": "quantitative"},
        "y": {"datum": -13.6, "type": "quantitative"},
        "text": {"value": ["Advanced Range Telemetry (ARTM) Lab", "Edwards Air Force Base", "HP 8566B", "Resolution Bandwidth = 3 kHz", "Video Bandwidth = 10 kHz", "Data Rate = 1.0 Mbps"]}
      }
    }
  ]
}
